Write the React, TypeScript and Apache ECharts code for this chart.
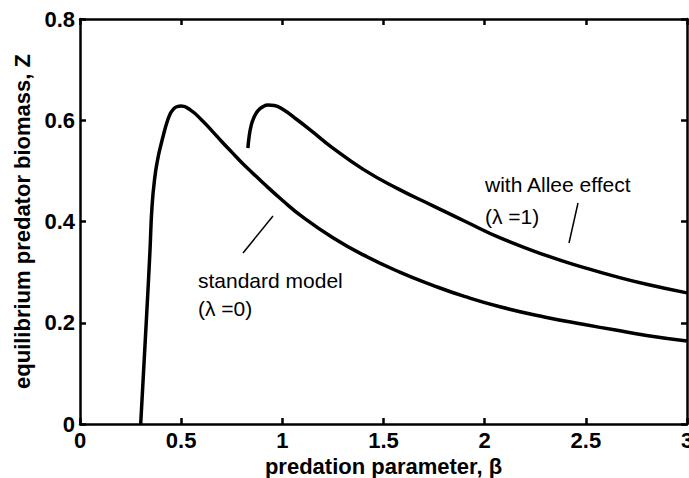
import React, { useEffect, useRef } from "react";
import * as echarts from "echarts";

const xTicks = { min: 0, max: 3, interval: 0.5 };
const yTicks = { min: 0, max: 0.8, interval: 0.2 };

const xTitle = "predation parameter, β";
const yTitle = "equilibrium predator biomass, Z";

// standard model (λ = 0): [β, Z]
const standardModel: [number, number][] = [
  [0.3, 0.0], [0.315, 0.11], [0.33, 0.22], [0.345, 0.335], [0.356, 0.43],
  [0.37, 0.488], [0.385, 0.525], [0.396, 0.545], [0.415, 0.575], [0.43, 0.596],
  [0.445, 0.612], [0.46, 0.621], [0.48, 0.627], [0.5, 0.628], [0.55, 0.619],
  [0.6, 0.601], [0.65, 0.58], [0.7, 0.558], [0.75, 0.537], [0.8, 0.516],
  [0.85, 0.497], [0.9, 0.478], [1.0, 0.442], [1.1, 0.409], [1.25, 0.368],
  [1.4, 0.334], [1.58, 0.3], [1.75, 0.273], [1.9, 0.252], [2.08, 0.231],
  [2.3, 0.211], [2.5, 0.196], [2.64, 0.186], [2.8, 0.175], [3.0, 0.164],
];

// with Allee effect (λ = 1): [β, Z]
const alleeModel: [number, number][] = [
  [0.83, 0.545], [0.835, 0.565], [0.845, 0.588], [0.86, 0.606], [0.88, 0.619],
  [0.905, 0.627], [0.93, 0.63], [0.96, 0.629], [1.0, 0.622], [1.07, 0.602],
  [1.15, 0.577], [1.24, 0.548], [1.4, 0.503], [1.57, 0.465], [1.75, 0.43],
  [1.91, 0.399], [2.08, 0.367], [2.31, 0.332], [2.5, 0.308], [2.64, 0.292],
  [2.8, 0.276], [3.0, 0.259],
];

const labels = [
  { text: "standard model", x: 198, y: 280 },
  { text: "(λ =0)", x: 198, y: 308 },
  { text: "with Allee effect", x: 485, y: 184 },
  { text: "(λ =1)", x: 485, y: 216 },
];

const leaders = [
  [273, 216, 243, 253],
  [578, 203, 569, 243],
];

const FONT = "'Liberation Sans', Arial, Helvetica, sans-serif";

export default function App() {
  const ref = useRef<HTMLDivElement>(null);
  useEffect(() => {
    if (!ref.current) return;
    const chart = echarts.init(ref.current, undefined, { renderer: "svg" });
    const axisLine = { show: true, onZero: false, lineStyle: { color: "#000", width: 2.5 } };
    const axisTick = { show: true, inside: true, length: 6, lineStyle: { color: "#000", width: 2.5 } };
    const axisLabel = { color: "#000", fontSize: 22, fontWeight: "bold" as const, fontFamily: FONT, margin: 5 };
    const nameStyle = { color: "#000", fontSize: 22, fontWeight: "bold" as const, fontFamily: FONT };
    chart.setOption({
      animation: false,
      backgroundColor: "#fff",
      grid: { left: 80, right: 2, top: 19, bottom: 54, containLabel: false, outerBoundsMode: "none" },
      xAxis: [
        {
          type: "value", ...xTicks, position: "bottom",
          axisLine, axisTick, axisLabel,
          splitLine: { show: false },
          name: xTitle, nameLocation: "middle", nameGap: 29, nameTextStyle: nameStyle,
        },
        {
          type: "value", ...xTicks, position: "top",
          axisLine, axisTick, axisLabel: { show: false }, splitLine: { show: false },
        },
      ],
      yAxis: [
        {
          type: "value", ...yTicks, position: "left",
          axisLine, axisTick, axisLabel,
          splitLine: { show: false },
          name: yTitle, nameLocation: "middle", nameGap: 44, nameTextStyle: nameStyle,
        },
        {
          type: "value", ...yTicks, position: "right",
          axisLine, axisTick, axisLabel: { show: false }, splitLine: { show: false },
        },
      ],
      series: [
        {
          type: "line", name: "standard model", data: standardModel,
          showSymbol: false, smooth: 0.5,
          lineStyle: { color: "#000", width: 3.5 },
          xAxisIndex: 0, yAxisIndex: 0,
        },
        {
          type: "line", name: "with Allee effect", data: alleeModel,
          showSymbol: false, smooth: 0.5,
          lineStyle: { color: "#000", width: 3.5 },
          xAxisIndex: 0, yAxisIndex: 0,
        },
      ],
      graphic: [
        ...labels.map((l) => ({
          type: "text",
          style: {
            text: l.text, x: l.x, y: l.y, verticalAlign: "middle", align: "left",
            fill: "#000", fontSize: 21, fontFamily: FONT,
          },
        })),
        ...leaders.map((s) => ({
          type: "line",
          shape: { x1: s[0], y1: s[1], x2: s[2], y2: s[3] },
          style: { stroke: "#000", lineWidth: 1.5 },
        })),
      ],
    });
    return () => chart.dispose();
  }, []);
  return <div ref={ref} style={{ width: 689, height: 478, position: "absolute", left: 0, top: 0 }} />;
}
